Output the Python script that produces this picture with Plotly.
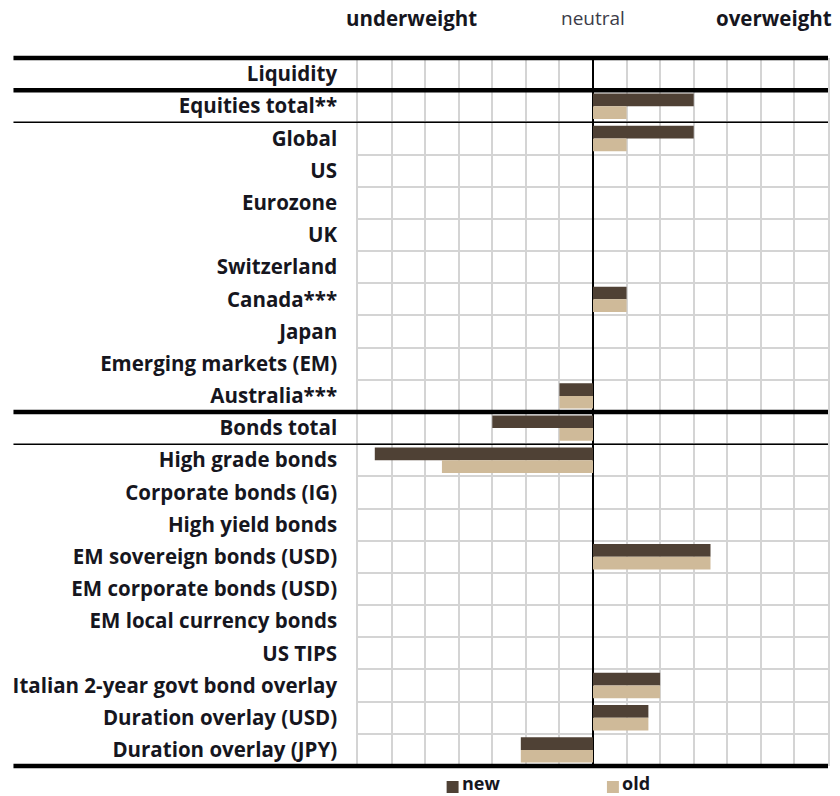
import plotly.graph_objects as go

# Asset classes, top to bottom
categories = [
    "Liquidity", "Equities total**", "Global", "US", "Eurozone", "UK",
    "Switzerland", "Canada***", "Japan", "Emerging markets (EM)", "Australia***",
    "Bonds total", "High grade bonds", "Corporate bonds (IG)", "High yield bonds",
    "EM sovereign bonds (USD)", "EM corporate bonds (USD)", "EM local currency bonds",
    "US TIPS", "Italian 2-year govt bond overlay", "Duration overlay (USD)",
    "Duration overlay (JPY)",
]
new_pos = [0, 3, 3, 0, 0, 0, 0, 1, 0, 0, -1, -3, -6.5, 0, 0, 3.5, 0, 0, 0, 2, 1.65, -2.15]
old_pos = [0, 1, 1, 0, 0, 0, 0, 1, 0, 0, -1, -1, -4.5, 0, 0, 3.5, 0, 0, 0, 2, 1.65, -2.15]

series_names = ["new", "old"]
header_labels = ["underweight", "neutral", "overweight"]

# section separators: (index of row above the line, thick?)
separators = [(-1, True), (0, True), (1, False), (10, True), (11, False), (21, True)]

NEW_COLOR = "#4f4135"
OLD_COLOR = "#cfba99"
GRID = "#d4d4d4"
TEXT = "#16161e"
FONT = "Open Sans"

rows = list(range(len(categories)))
n_rows = len(categories)

fig = go.Figure()
fig.add_trace(go.Bar(y=rows, x=new_pos, orientation="h", name=series_names[0],
                     marker=dict(color=NEW_COLOR, line=dict(width=0))))
fig.add_trace(go.Bar(y=rows, x=old_pos, orientation="h", name=series_names[1],
                     marker=dict(color=OLD_COLOR, line=dict(width=0))))

L, R, T, B = 358, 10, 58, 30
W, H = 840, 796
plot_w = W - L - R
plot_h = H - T - B
label_x0 = (12 - L) / plot_w  # separators run under the label column too


def px_x(px):
    return (px - L) / plot_w


def px_y(py):
    return 1 - (py - T) / plot_h


shapes = []
for idx, thick in separators:
    yp = 1 - (idx + 1) / n_rows
    shapes.append(dict(type="line", xref="paper", yref="paper",
                       x0=label_x0, x1=1, y0=yp, y1=yp,
                       line=dict(color="black", width=4.5 if thick else 1.5),
                       layer="above"))

# legend keys under the chart
legend_items = [(series_names[0], NEW_COLOR, 447), (series_names[1], OLD_COLOR, 608)]
for name, color, px in legend_items:
    shapes.append(dict(type="rect", xref="paper", yref="paper",
                       x0=px_x(px), x1=px_x(px + 12), y0=px_y(781), y1=px_y(793),
                       fillcolor=color, line=dict(width=0)))

fig.update_layout(
    width=W, height=H,
    margin=dict(l=L, r=R, t=T, b=B),
    paper_bgcolor="white", plot_bgcolor="white",
    barmode="group", bargap=0.21, bargroupgap=0,
    showlegend=False,
    font=dict(family=FONT, color=TEXT),
    shapes=shapes,
)

fig.update_xaxes(
    range=[-7, 7], dtick=1, tick0=0,
    showgrid=True, gridcolor=GRID, gridwidth=1.5,
    zeroline=True, zerolinecolor="black", zerolinewidth=1.5,
    showticklabels=False, ticks="", showline=False, fixedrange=True,
)
fig.update_yaxes(
    range=[n_rows - 0.5, -0.5],
    tickvals=rows, ticktext=categories,
    tickfont=dict(family=FONT, size=20.5, color=TEXT, weight="bold"),
    ticks="", ticklabelstandoff=15,
    showgrid=False, zeroline=False,
    showline=True, mirror=True, linecolor=GRID, linewidth=1.5,
    minor=dict(tickvals=[i + 0.5 for i in rows[:-1]], showgrid=True,
               gridcolor=GRID, gridwidth=1.5, ticks=""),
    fixedrange=True,
)

# column header above the scale
head_y = px_y(18)
fig.add_annotation(text=header_labels[0], xref="paper", yref="paper",
                   x=px_x(344), y=head_y, xanchor="left", yanchor="middle",
                   showarrow=False, font=dict(size=20.5, color=TEXT, weight="bold"))
fig.add_annotation(text=header_labels[1], xref="x", yref="paper",
                   x=0, y=head_y, xanchor="center", yanchor="middle",
                   showarrow=False, font=dict(size=19, color="#3c3c48"))
fig.add_annotation(text=header_labels[2], xref="paper", yref="paper",
                   x=px_x(836), y=head_y, xanchor="right", yanchor="middle",
                   showarrow=False, font=dict(size=20.5, color=TEXT, weight="bold"))

for name, color, px in legend_items:
    fig.add_annotation(text=name, xref="paper", yref="paper",
                       x=px_x(px + 14), y=px_y(783), xanchor="left", yanchor="middle",
                       borderpad=0, showarrow=False,
                       font=dict(size=18, color=TEXT, weight="bold"))

fig.write_html("out.html")
